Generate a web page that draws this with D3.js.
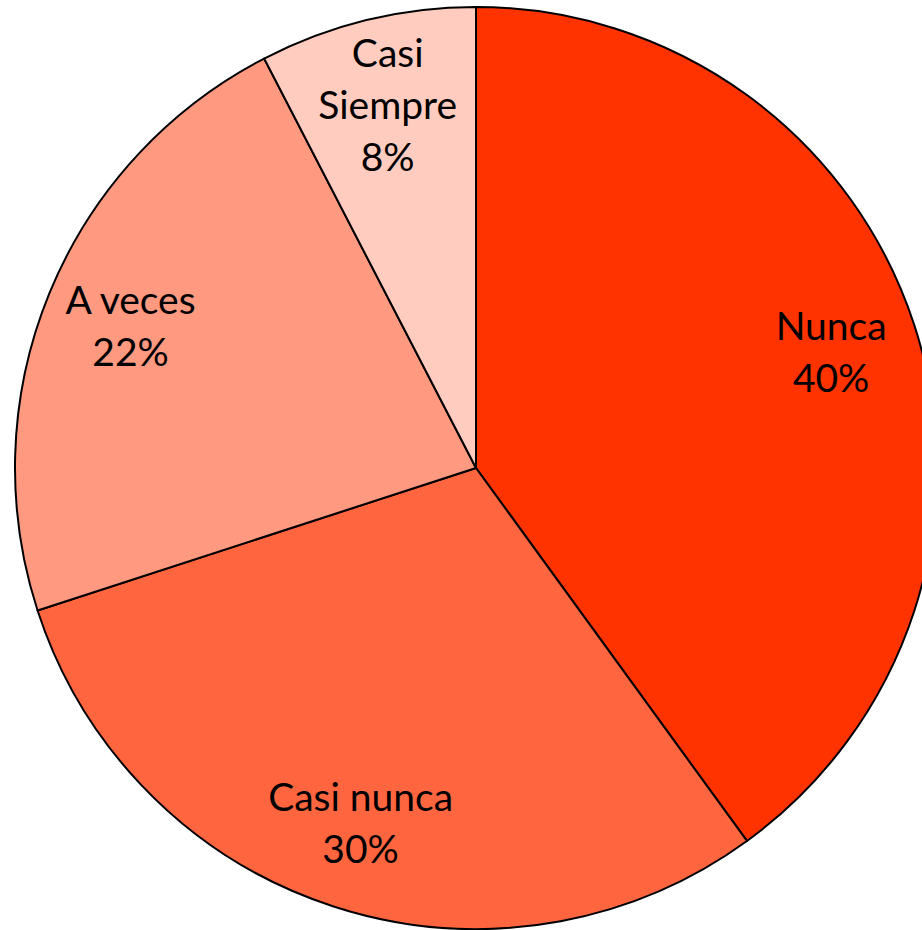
<!DOCTYPE html>
<html>
<head>
<meta charset="utf-8">
<script src="https://cdn.jsdelivr.net/npm/d3@7"></script>
<style>
body { margin: 0; background: #fff; overflow: hidden; }
svg { display: block; }
</style>
</head>
<body>
<svg width="922" height="930"></svg>
<script>
// data
var categories = ["Nunca", "Casi nunca", "A veces", "Casi Siempre"];
var values = [40, 30, 22.4, 7.6];
var colors = ["#ff3300", "#ff6640", "#ff9980", "#ffccbf"];

var svg = d3.select("svg"),
    cx = 476, cy = 468, radius = 461;

var pie = d3.pie().sort(null).value(function(d) { return d.value; });
var data = categories.map(function(c, i) { return {name: c, value: values[i], color: colors[i]}; });
var arcs = pie(data);
var total = d3.sum(values);

var arc = d3.arc().innerRadius(0).outerRadius(radius);
var labelArc = d3.arc().innerRadius(radius * 0.81).outerRadius(radius * 0.81);

var g = svg.append("g").attr("transform", "translate(" + cx + "," + cy + ")");

g.selectAll("path")
  .data(arcs)
  .enter().append("path")
    .attr("d", arc)
    .attr("fill", function(d) { return d.data.color; })
    .attr("stroke", "#000")
    .attr("stroke-width", 2)
    .attr("stroke-linejoin", "round");

// label lines: split long names into two lines like the original
function labelLines(d) {
  var pct = Math.round(d.data.value / total * 100) + "%";
  if (d.data.name == "Casi Siempre") return ["Casi", "Siempre", pct];
  return [d.data.name, pct];
}

var lineH = 52;
var labels = g.selectAll("text.label")
  .data(arcs)
  .enter().append("text")
    .attr("class", "label")
    .attr("text-anchor", "middle")
    .style("font-family", "Lato, 'Open Sans', sans-serif")
    .style("font-size", "39px")
    .attr("fill", "#000")
    .attr("transform", function(d) { return "translate(" + labelArc.centroid(d) + ")"; });

labels.each(function(d) {
  var lines = labelLines(d);
  var t = d3.select(this);
  var y0 = -(lines.length - 1) * lineH / 2;
  lines.forEach(function(l, i) {
    t.append("tspan")
      .attr("x", 0)
      .attr("y", y0 + i * lineH)
      .attr("dy", "0.35em")
      .text(l);
  });
});
</script>
</body>
</html>
